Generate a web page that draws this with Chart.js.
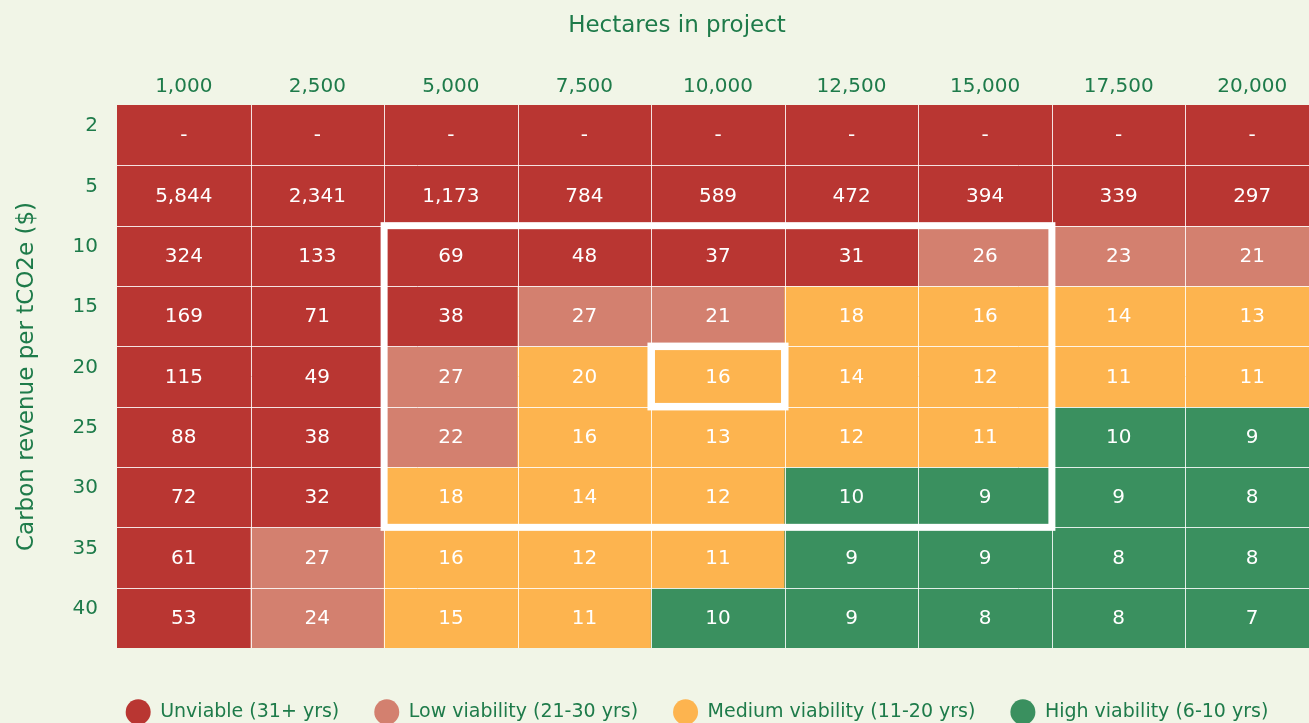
<!DOCTYPE html>
<html><head><meta charset="utf-8">
<script src="https://cdn.jsdelivr.net/npm/chart.js@4.4.1/dist/chart.umd.min.js"></script>
<style>
html,body{margin:0;padding:0;background:#F1F5E7;overflow:hidden;}
#wrap{width:1309px;height:723px;overflow:hidden;position:relative;background:#F1F5E7;}
canvas{display:block;}
</style></head><body>
<div id="wrap"><canvas id="c" width="1394" height="740" style="width:1394px;height:740px"></canvas></div>
<script>
// ---- data ----
const hectares = ['1,000','2,500','5,000','7,500','10,000','12,500','15,000','17,500','20,000'];
const revenue  = ['2','5','10','15','20','25','30','35','40'];
// payback years per carbon revenue row (null = never, shown as "-")
const years_2  = [null,null,null,null,null,null,null,null,null];
const years_5  = [5844,2341,1173,784,589,472,394,339,297];
const years_10 = [324,133,69,48,37,31,26,23,21];
const years_15 = [169,71,38,27,21,18,16,14,13];
const years_20 = [115,49,27,20,16,14,12,11,11];
const years_25 = [88,38,22,16,13,12,11,10,9];
const years_30 = [72,32,18,14,12,10,9,9,8];
const years_35 = [61,27,16,12,11,9,9,8,8];
const years_40 = [53,24,15,11,10,9,8,8,7];
const rows = [years_2,years_5,years_10,years_15,years_20,years_25,years_30,years_35,years_40];
const legendLabels = ['Unviable (31+ yrs)','Low viability (21-30 yrs)','Medium viability (11-20 yrs)','High viability (6-10 yrs)'];
const highlightHectares = ['5,000','15,000'];
const highlightRevenue = ['10','30'];
const focusHectare = '10,000';
const focusRevenue = '20';

// ---- styles ----
const RED = '#B93632', LOW = '#D3806F', MED = '#FDB44F', GREEN = '#3A905F';
const legendColors = [RED, LOW, MED, GREEN];
const TEXT = '#1E7B4A';
const FONT = "'DejaVu Sans', sans-serif";
Chart.defaults.font.family = FONT;

function colorFor(v) {
  if (v === null || v >= 31) return RED;
  if (v >= 21) return LOW;
  if (v >= 11) return MED;
  return GREEN;
}

const datasets = rows.map((vals, r) => ({
  label: revenue[r],
  data: vals.map(() => [r - 0.5, r + 0.5]),
  backgroundColor: vals.map(colorFor),
  borderWidth: 0,
  barPercentage: 1,
  categoryPercentage: 1,
  grouped: false
}));

const cellPlugin = {
  id: 'cells',
  afterDatasetsDraw(chart) {
    const ctx = chart.ctx, xs = chart.scales.x, ys = chart.scales.y, a = chart.chartArea;
    const colEdge = i => (xs.getPixelForValue(i - 1) + xs.getPixelForValue(i)) / 2; // boundary before col i
    const half = (xs.getPixelForValue(1) - xs.getPixelForValue(0)) / 2;
    const colL = i => xs.getPixelForValue(i) - half;
    const colR = i => xs.getPixelForValue(i) + half;
    const rowT = r => ys.getPixelForValue(r - 0.5);
    const rowB = r => ys.getPixelForValue(r + 0.5);
    ctx.save();
    // grid lines
    ctx.strokeStyle = 'rgba(255,255,255,0.85)';
    ctx.lineWidth = 1;
    ctx.beginPath();
    for (let i = 1; i < hectares.length; i++) {
      const px = Math.round(colL(i)) + 0.5;
      ctx.moveTo(px, a.top); ctx.lineTo(px, a.bottom);
    }
    for (let r = 1; r < revenue.length; r++) {
      const py = Math.round(rowT(r)) + 0.5;
      ctx.moveTo(a.left, py); ctx.lineTo(a.right, py);
    }
    ctx.stroke();
    // values
    ctx.fillStyle = '#FFFFFF';
    ctx.font = "20px " + FONT;
    ctx.textAlign = 'center';
    ctx.textBaseline = 'middle';
    rows.forEach((vals, r) => {
      vals.forEach((v, c) => {
        const t = v === null ? '-' : v.toLocaleString('en-US');
        ctx.fillText(t, xs.getPixelForValue(c), ys.getPixelForValue(r) + 1);
      });
    });
    // highlight boxes
    ctx.strokeStyle = '#FFFFFF';
    ctx.lineWidth = 7;
    const c0 = hectares.indexOf(highlightHectares[0]), c1 = hectares.indexOf(highlightHectares[1]);
    const r0 = revenue.indexOf(highlightRevenue[0]), r1 = revenue.indexOf(highlightRevenue[1]);
    ctx.strokeRect(colL(c0), rowT(r0), colR(c1) - colL(c0), rowB(r1) - rowT(r0));
    const fc = hectares.indexOf(focusHectare), fr = revenue.indexOf(focusRevenue);
    ctx.lineWidth = 7.5;
    ctx.strokeRect(colL(fc), rowT(fr), colR(fc) - colL(fc), rowB(fr) - rowT(fr));
    ctx.restore();
  },
  afterDraw(chart) {
    const ctx = chart.ctx;
    ctx.save();
    ctx.fillStyle = TEXT;
    ctx.font = "23px " + FONT;
    ctx.textAlign = 'center';
    ctx.textBaseline = 'middle';
    ctx.fillText('Hectares in project', 677, 26);
    ctx.restore();
  }
};

new Chart(document.getElementById('c'), {
  type: 'bar',
  data: { labels: hectares, datasets },
  options: {
    responsive: false,
    animation: false,
    layout: { padding: { top: 0, left: 0, right: 0, bottom: 8.6 } },
    scales: {
      x: {
        type: 'category',
        position: 'top',
        grid: { display: false, drawTicks: false },
        border: { display: false },
        ticks: { color: TEXT, font: { size: 20 }, padding: 6, maxRotation: 0, autoSkip: false },
        afterFit(s) { s.height = 105; }
      },
      y: {
        type: 'linear',
        position: 'left',
        reverse: true,
        min: -0.5,
        max: 8.5,
        grid: { display: false, drawTicks: false },
        border: { display: false },
        afterBuildTicks(s) { s.ticks = revenue.map((_, i) => ({ value: i })); },
        ticks: {
          color: TEXT, font: { size: 20 }, padding: 19, labelOffset: -9, autoSkip: false,
          callback: v => revenue[v]
        },
        title: { display: true, text: 'Carbon revenue per tCO2e ($)', color: TEXT, font: { size: 23 }, padding: { top: 13, bottom: 0 } },
        afterFit(s) { s.width = 117; }
      },
      pad: {
        type: 'linear',
        position: 'right',
        display: true,
        grid: { display: false, drawTicks: false },
        border: { display: false },
        ticks: { display: false },
        afterFit(s) { s.width = 75; }
      }
    },
    plugins: {
      tooltip: { enabled: false },
      title: { display: false },
      legend: {
        display: true,
        position: 'bottom',
        title: { display: true, text: '', padding: { top: 0, bottom: 5 } },
        labels: {
          usePointStyle: true,
          pointStyleWidth: 25,
          boxHeight: 18,
          boxWidth: 18,
          padding: 35,
          color: TEXT,
          font: { size: 19 },
          generateLabels: () => legendLabels.map((t, i) => ({
            text: t, fillStyle: legendColors[i], strokeStyle: legendColors[i],
            lineWidth: 0, pointStyle: 'circle', hidden: false, fontColor: TEXT, datasetIndex: i
          }))
        },
        onClick: () => {}
      }
    }
  },
  plugins: [cellPlugin]
});
</script>
</body></html>
